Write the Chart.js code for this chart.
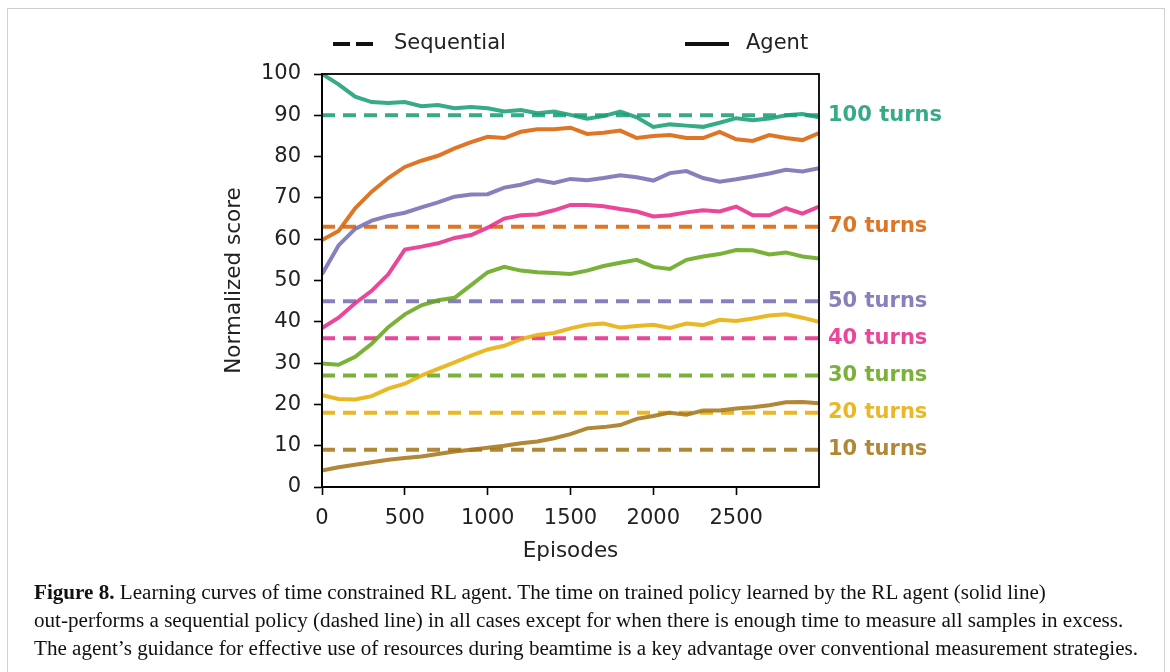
<!DOCTYPE html>
<html>
<head>
<meta charset="utf-8">
<script src="https://cdn.jsdelivr.net/npm/chart.js@4"></script>
<style>
  html, body { margin: 0; padding: 0; background: #fff; }
  body { width: 1170px; height: 672px; position: relative; overflow: hidden; }
  #frame { position: absolute; left: 7px; top: 8px; width: 1158px; height: 700px; border: 1.5px solid #cfcfcf; box-sizing: border-box; }
  #wrap { position: absolute; left: 0; top: 0; width: 1170px; height: 580px; }
  #cap { position: absolute; left: 34px; top: 578px; font-family: "Liberation Serif", "DejaVu Serif", serif; font-size: 20.5px; line-height: 28px; color: #111; transform-origin: 0 0; white-space: nowrap; }
  #cap span { display: inline-block; }
</style>
</head>
<body>
<div id="frame"></div>
<div id="wrap"><canvas id="c" width="1170" height="580"></canvas></div>
<div id="cap">
  <span><b>Figure 8.</b> Learning curves of time constrained RL agent. The time on trained policy learned by the RL agent (solid line)</span><br>
  <span>out-performs a sequential policy (dashed line) in all cases except for when there is enough time to measure all samples in excess.</span><br>
  <span id="l3">The agent’s guidance for effective use of resources during beamtime is a key advantage over conventional measurement strategies.</span>
</div>
<script>
// ---- data ----
const episodes = [0,100,200,300,400,500,600,700,800,900,1000,1100,1200,1300,1400,1500,1600,1700,1800,1900,2000,2100,2200,2300,2400,2500,2600,2700,2800,2900,3000];
const turnLabels = ['100 turns','70 turns','50 turns','40 turns','30 turns','20 turns','10 turns'];
const sequential = [90, 63, 45, 36, 27, 18, 9];
const agent100 = [100,97.5,94.5,93.2,93,93.2,92.2,92.5,91.7,92,91.7,90.9,91.3,90.5,90.9,90.1,89.2,89.8,90.9,89.5,87.2,87.8,87.5,87.2,88.2,89.3,88.8,89.2,90,90.3,89.5];
const agent70 = [59.8,62,67.5,71.5,74.8,77.5,79,80.2,82,83.5,84.8,84.5,86,86.6,86.6,87,85.5,85.8,86.3,84.5,85,85.2,84.5,84.5,86,84.2,83.8,85.2,84.5,84,85.7];
const agent50 = [51.5,58.5,62.5,64.5,65.6,66.4,67.7,68.9,70.3,70.8,70.9,72.5,73.2,74.3,73.6,74.6,74.3,74.8,75.5,75,74.2,76,76.5,74.8,73.9,74.5,75.2,75.9,76.8,76.4,77.2];
const agent40 = [38.5,41,44.5,47.5,51.5,57.5,58.2,59,60.3,61,62.8,65,65.8,66,67,68.3,68.3,68,67.3,66.7,65.5,65.8,66.5,67,66.7,67.9,65.8,65.8,67.5,66.2,67.9];
const agent30 = [29.9,29.6,31.5,34.7,38.7,41.8,44,45.2,45.8,48.9,52,53.3,52.4,52,51.8,51.6,52.4,53.5,54.3,55,53.3,52.8,55,55.8,56.4,57.4,57.3,56.3,56.8,55.8,55.3];
const agent20 = [22.2,21.3,21.2,22,23.8,25,27,28.6,30.2,31.8,33.3,34.2,35.8,36.8,37.3,38.4,39.3,39.6,38.6,39,39.3,38.5,39.6,39.2,40.5,40.2,40.8,41.5,41.8,41,40];
const agent10 = [4,4.8,5.4,6,6.6,7,7.4,8,8.6,9,9.5,10,10.6,11,11.8,12.8,14.2,14.5,15,16.5,17.2,18,17.5,18.5,18.5,19,19.3,19.8,20.5,20.6,20.3];
const agentSeries = [agent100, agent70, agent50, agent40, agent30, agent20, agent10];
const colors = ['rgba(27,158,119,0.88)','rgba(217,95,2,0.86)','rgba(117,112,179,0.88)','rgba(231,41,138,0.86)','rgba(102,166,30,0.88)','rgba(230,171,2,0.86)','rgba(166,118,29,0.88)'];
const xTicks = [0, 500, 1000, 1500, 2000, 2500];
const xMax = 3000;
const legendNames = ['Sequential', 'Agent'];

const FONT = "'DejaVu Sans', sans-serif";
const datasets = [];
sequential.forEach((v, i) => {
  datasets.push({
    label: turnLabels[i] + ' sequential',
    data: [{x: 0, y: v}, {x: xMax, y: v}],
    borderColor: colors[i], borderWidth: 4, borderDash: [13, 8],
    pointRadius: 0, fill: false, order: 2
  });
});
agentSeries.forEach((arr, i) => {
  datasets.push({
    label: turnLabels[i] + ' agent',
    data: arr.map((y, k) => ({x: episodes[k], y: y})),
    borderColor: colors[i], borderWidth: 4, pointRadius: 0, tension: 0, fill: false, order: 1
  });
});

const decor = {
  id: 'decor',
  afterDraw(chart) {
    const ctx = chart.ctx, a = chart.chartArea, ys = chart.scales.y;
    ctx.save();
    ctx.strokeStyle = '#000'; ctx.lineWidth = 1.8;
    ctx.strokeRect(a.left, a.top, a.right - a.left, a.bottom - a.top);
    ctx.font = "bold 21px " + FONT;
    ctx.textBaseline = 'middle'; ctx.textAlign = 'left';
    sequential.forEach((v, i) => {
      ctx.fillStyle = colors[i];
      ctx.fillText(turnLabels[i], a.right + 9, ys.getPixelForValue(v));
    });
    const ly = 44;
    ctx.strokeStyle = '#111'; ctx.lineWidth = 4;
    ctx.setLineDash([17, 6]);
    ctx.beginPath(); ctx.moveTo(a.left + 11, ly); ctx.lineTo(a.left + 51, ly); ctx.stroke();
    ctx.setLineDash([]);
    ctx.beginPath(); ctx.moveTo(a.left + 363, ly); ctx.lineTo(a.left + 407, ly); ctx.stroke();
    ctx.fillStyle = '#222'; ctx.font = "21px " + FONT;
    ctx.fillText(legendNames[0], a.left + 72, ly);
    ctx.fillText(legendNames[1], a.left + 424, ly);
    ctx.restore();
  }
};

new Chart(document.getElementById('c'), {
  type: 'line',
  data: { datasets },
  options: {
    responsive: false, animation: false,
    layout: { padding: { left: 218, right: 351, top: 74, bottom: 13 } },
    plugins: { legend: { display: false }, tooltip: { enabled: false } },
    scales: {
      x: {
        type: 'linear', min: 0, max: xMax,
        afterBuildTicks: s => { s.ticks = xTicks.map(v => ({value: v})); },
        afterFit: s => { s.height = 80; },
        grid: { drawOnChartArea: false, drawTicks: true, tickLength: 8, tickColor: '#000', tickWidth: 1.6 },
        border: { display: true, color: '#000', width: 1.8 },
        ticks: { font: { family: FONT, size: 21 }, color: '#222', padding: 11, maxRotation: 0, callback: v => String(v) },
        title: { display: true, text: 'Episodes', font: { family: FONT, size: 21.5 }, color: '#222', padding: { top: 4, bottom: 3 } }
      },
      y: {
        min: 0, max: 100,
        afterFit: s => { s.width = 104; },
        grid: { drawOnChartArea: false, drawTicks: true, tickLength: 8, tickColor: '#000', tickWidth: 1.6 },
        border: { display: true, color: '#000', width: 1.8 },
        ticks: { stepSize: 10, font: { family: FONT, size: 21 }, color: '#222', padding: 13, callback: v => String(v) },
        title: { display: true, text: 'Normalized score', font: { family: FONT, size: 21.5 }, color: '#222', padding: { top: 4, bottom: 4 } }
      }
    }
  },
  plugins: [decor]
});

(function () {
  const cap = document.getElementById('cap');
  const w = document.getElementById('l3').getBoundingClientRect().width;
  const s = 1104 / w;
  cap.style.transform = 'scaleX(' + s + ')';
})();
</script>
</body>
</html>
